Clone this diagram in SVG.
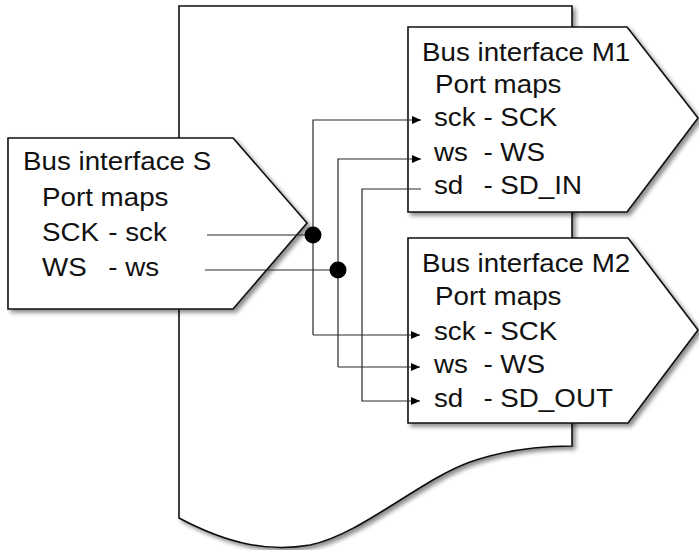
<svg xmlns="http://www.w3.org/2000/svg" width="699" height="550" viewBox="0 0 699 550">
  <style>
    .shape { fill: #ffffff; stroke: #111111; stroke-width: 1.6; filter: url(#sh); }
    .t { font-family: "Liberation Sans", Arial, sans-serif; font-size: 25px; fill: #111111; }
    .wire { fill: none; stroke: #2a2a2a; stroke-width: 1.2; }
    .dot { fill: #000000; }
  </style>
  <defs>
    <filter id="sh" x="-10%" y="-10%" width="130%" height="130%">
      <feDropShadow dx="3" dy="3" stdDeviation="2" flood-color="#000000" flood-opacity="0.45"/>
    </filter>
    <marker id="arr" markerUnits="userSpaceOnUse" markerWidth="10" markerHeight="9" refX="9" refY="4" orient="auto">
      <path d="M0,0 L9,4 L0,8 Z" fill="#000000"/>
    </marker>
  </defs>

  <g id="component">
    <path class="shape" d="M179,6 H572 V446 C545,446 510,448 470,462 C420,480 360,535 310,545 C270,552 230,545 179,518 Z"/>
  </g>

  <g id="bus-S">
    <path class="shape" d="M8,138 H233 L307,223 L233,309 H8 Z"/>
    <text class="t" transform="translate(23 170) scale(1.11 1)">Bus interface S</text>
    <text class="t" transform="translate(42 206) scale(1.11 1)">Port maps</text>
    <text class="t" transform="translate(42 241) scale(1.11 1)">SCK<tspan x="59.7">- sck</tspan></text>
    <text class="t" transform="translate(42 276) scale(1.11 1)">WS<tspan x="59.7">- ws</tspan></text>
  </g>

  <g id="bus-M1">
    <path class="shape" d="M408,27 H627 L698,118 L627,212 H408 Z"/>
    <text class="t" transform="translate(422 61) scale(1.11 1)">Bus interface M1</text>
    <text class="t" transform="translate(435 93) scale(1.11 1)">Port maps</text>
    <text class="t" transform="translate(434 126) scale(1.11 1)">sck<tspan x="44.5">- SCK</tspan></text>
    <text class="t" transform="translate(434 161) scale(1.11 1)">ws<tspan x="44.5">- WS</tspan></text>
    <text class="t" transform="translate(434 194) scale(1.11 1)">sd<tspan x="44.5">- SD_IN</tspan></text>
  </g>

  <g id="bus-M2">
    <path class="shape" d="M408,238 H628 L698,330 L628,423 H408 Z"/>
    <text class="t" transform="translate(422 272) scale(1.11 1)">Bus interface M2</text>
    <text class="t" transform="translate(435 305) scale(1.11 1)">Port maps</text>
    <text class="t" transform="translate(434 340) scale(1.11 1)">sck<tspan x="44.5">- SCK</tspan></text>
    <text class="t" transform="translate(434 373) scale(1.11 1)">ws<tspan x="44.5">- WS</tspan></text>
    <text class="t" transform="translate(434 407) scale(1.11 1)">sd<tspan x="44.5">- SD_OUT</tspan></text>
  </g>

  <g id="connectors">
    <path class="wire" d="M207,235 H313"/>
    <path class="wire" d="M205,270 H338"/>
    <path class="wire" d="M313,335 V120 H421" marker-end="url(#arr)"/>
    <path class="wire" d="M313,335 H420" marker-end="url(#arr)"/>
    <path class="wire" d="M338,367 V159 H421" marker-end="url(#arr)"/>
    <path class="wire" d="M338,367 H420" marker-end="url(#arr)"/>
    <path class="wire" d="M421,189 H362 V401 H420" marker-end="url(#arr)"/>
    <circle class="dot" cx="313" cy="235" r="8.5"/>
    <circle class="dot" cx="338" cy="270" r="8.5"/>
  </g>
</svg>
